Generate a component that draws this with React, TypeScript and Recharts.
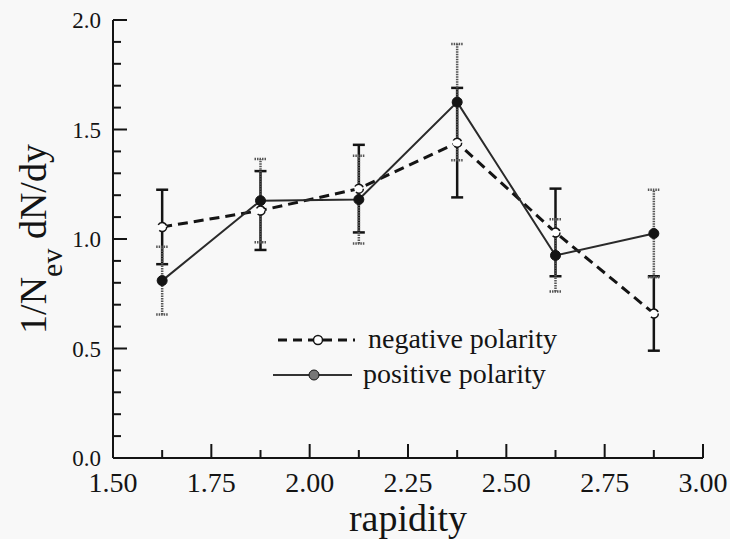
import React from "react";
import {
	ComposedChart,
	Line,
	XAxis,
	YAxis,
	ErrorBar,
	Legend,
} from "recharts";

const rapidity = [1.625, 1.875, 2.125, 2.375, 2.625, 2.875];
const negative = [1.055, 1.13, 1.23, 1.44, 1.03, 0.66];
const negativeErr = [0.17, 0.18, 0.2, 0.25, 0.2, 0.17];
const positive = [0.81, 1.175, 1.18, 1.625, 0.925, 1.025];
const positiveErr = [0.155, 0.19, 0.2, 0.265, 0.165, 0.2];

const xTicks = [1.5, 1.625, 1.75, 1.875, 2.0, 2.125, 2.25, 2.375, 2.5, 2.625, 2.75, 2.875, 3.0];
const yTicks = [0, 0.1, 0.2, 0.3, 0.4, 0.5, 0.6, 0.7, 0.8, 0.9, 1.0, 1.1, 1.2, 1.3, 1.4, 1.5, 1.6, 1.7, 1.8, 1.9, 2.0];

const data = rapidity.map((x, i) => ({
	x,
	neg: negative[i],
	negErr: negativeErr[i],
	pos: positive[i],
	posErr: positiveErr[i],
}));

const FONT = '"Liberation Serif", "Times New Roman", serif';
const INK = "#141414";

const isMajorX = (v: number) => Math.abs(v * 4 - Math.round(v * 4)) < 1e-6;
const isMajorY = (v: number) => Math.abs(v * 2 - Math.round(v * 2)) < 1e-6;

// ticks point into the plot on every side; labels only on bottom/left
const makeTick = (side: "bottom" | "top" | "left" | "right") => (props: any) => {
	const { x, y, payload } = props;
	const v = payload.value as number;
	const major = side === "bottom" || side === "top" ? isMajorX(v) : isMajorY(v);
	const len = major ? 14 : 8;
	let x2 = x;
	let y2 = y;
	if (side === "bottom") y2 = y - len;
	if (side === "top") y2 = y + len;
	if (side === "left") x2 = x + len;
	if (side === "right") x2 = x - len;
	return (
		<g>
			<line x1={x} y1={y} x2={x2} y2={y2} stroke={INK} strokeWidth={2} />
			{side === "bottom" && major && (
				<text x={x} y={y + 34} textAnchor="middle" fontSize={28} fontFamily={FONT} fill={INK}>
					{v.toFixed(2)}
				</text>
			)}
			{side === "left" && major && (
				<text x={x - 12} y={y} dy="0.36em" textAnchor="end" fontSize={23} fontFamily={FONT} fill={INK}>
					{v.toFixed(1)}
				</text>
			)}
		</g>
	);
};

const XTitle = (props: any) => {
	const { viewBox } = props;
	return (
		<text
			x={viewBox.x + viewBox.width / 2}
			y={viewBox.y + 73}
			textAnchor="middle"
			fontSize={38}
			fontFamily={FONT}
			fill={INK}
		>
			rapidity
		</text>
	);
};

const YTitle = (props: any) => {
	const { viewBox } = props;
	const cy = viewBox.y + viewBox.height / 2;
	return (
		<text
			transform={`translate(46, ${cy}) rotate(-90)`}
			textAnchor="middle"
			fontSize={38}
			fontFamily={FONT}
			fill={INK}
		>
			1/N
			<tspan dy={16} fontSize={30}>ev</tspan>
			<tspan dy={-16}> dN/dy</tspan>
		</text>
	);
};

const renderLegend = () => (
	<svg width={340} height={75}>
		<line x1={13} y1={20} x2={90} y2={20} stroke={INK} strokeWidth={3} strokeDasharray="9 6" />
		<circle cx={53} cy={20} r={4.5} fill="#fff" stroke={INK} strokeWidth={1.5} />
		<text x={103} y={28} fontSize={28} fontFamily={FONT} fill={INK}>
			negative polarity
		</text>
		<line x1={8} y1={55} x2={87} y2={55} stroke="#333" strokeWidth={2} />
		<circle cx={49} cy={55} r={5} fill="#777" stroke={INK} strokeWidth={1} />
		<text x={98} y={63} fontSize={28} fontFamily={FONT} fill={INK}>
			positive polarity
		</text>
	</svg>
);

export default function App() {
	return (
		<div style={{ position: "absolute", left: 0, top: 0, width: 730, height: 539, background: "#f8f8f8" }}>
			<ComposedChart
				width={730}
				height={539}
				data={data}
				margin={{ top: 20, right: 27, left: 0, bottom: 0 }}
			>
				<XAxis
					xAxisId="b"
					dataKey="x"
					type="number"
					domain={[1.5, 3]}
					ticks={xTicks}
					interval={0}
					height={81}
					tickSize={0}
					tickMargin={0}
					tickLine={false}
					axisLine={{ stroke: INK, strokeWidth: 2 }}
					tick={makeTick("bottom")}
					label={<XTitle />}
				/>
				<XAxis
					xAxisId="t"
					orientation="top"
					dataKey="x"
					type="number"
					domain={[1.5, 3]}
					ticks={xTicks}
					interval={0}
					height={0}
					tickSize={0}
					tickMargin={0}
					tickLine={false}
					axisLine={{ stroke: INK, strokeWidth: 2 }}
					tick={makeTick("top")}
				/>
				<YAxis
					yAxisId="l"
					type="number"
					domain={[0, 2]}
					ticks={yTicks}
					interval={0}
					width={113}
					tickSize={0}
					tickMargin={0}
					tickLine={false}
					axisLine={{ stroke: INK, strokeWidth: 2 }}
					tick={makeTick("left")}
					label={<YTitle />}
				/>
				<YAxis
					yAxisId="r"
					orientation="right"
					type="number"
					domain={[0, 2]}
					ticks={yTicks}
					interval={0}
					width={0}
					tickSize={0}
					tickMargin={0}
					tickLine={false}
					axisLine={{ stroke: INK, strokeWidth: 2 }}
					tick={makeTick("right")}
				/>
				<Legend
					layout="vertical"
					align="center"
					verticalAlign="middle"
					content={renderLegend}
					wrapperStyle={{ left: 265, top: 320, width: 340, height: 75 }}
				/>
				<Line
					xAxisId="b"
					yAxisId="l"
					dataKey="neg"
					type="linear"
					stroke={INK}
					strokeWidth={3}
					strokeDasharray="10 6"
					dot={{ r: 4.5, fill: "#fff", stroke: INK, strokeWidth: 1.5 }}
					isAnimationActive={false}
				>
					<ErrorBar dataKey="negErr" direction="y" width={6} stroke={INK} strokeWidth={2.5} />
				</Line>
				<Line
					xAxisId="b"
					yAxisId="l"
					dataKey="pos"
					type="linear"
					stroke="#2a2a2a"
					strokeWidth={2}
					dot={{ r: 5, fill: INK, stroke: INK, strokeWidth: 1 }}
					isAnimationActive={false}
				>
					<ErrorBar
						dataKey="posErr"
						direction="y"
						width={6}
						stroke="#555"
						strokeWidth={2.5}
						strokeDasharray="1.5 1"
					/>
				</Line>
			</ComposedChart>
		</div>
	);
}
